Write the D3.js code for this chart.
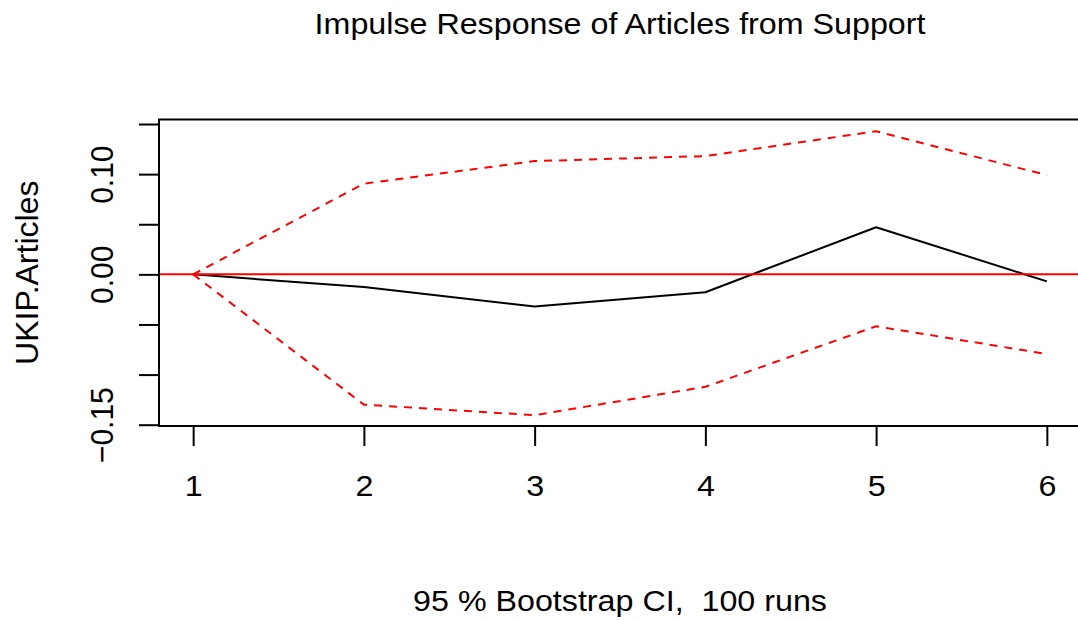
<!DOCTYPE html>
<html>
<head>
<meta charset="utf-8">
<script src="https://cdn.jsdelivr.net/npm/d3@7"></script>
<style>
  html, body { margin: 0; padding: 0; background: #fff; }
  svg { display: block; font-family: "Liberation Sans", Arial, sans-serif; }
  text { white-space: pre; }
</style>
</head>
<body>
<svg id="chart" width="1078" height="620"></svg>
<script>
// Impulse response horizon (steps)
const steps = [1, 2, 3, 4, 5, 6];
// Orthogonalised impulse response of UKIP.Articles to a shock in Support
const response = [0.0000, -0.0127, -0.0320, -0.0178, 0.0470, -0.0070];
// Bootstrap confidence band
const upperCI = [0.0000, 0.0905, 0.1130, 0.1180, 0.1428, 0.0990];
const lowerCI = [0.0000, -0.1300, -0.1405, -0.1122, -0.0518, -0.0795];
// Axis ticks and labels
const xTicks = [1, 2, 3, 4, 5, 6];
const yTicks = [-0.15, -0.10, -0.05, 0.00, 0.05, 0.10, 0.15];
const yTickLabels = ["-0.15", "", "", "0.00", "", "0.10", ""];

const titleText = "Impulse Response of Articles from Support";
const yLabel = "UKIP.Articles";
const xLabel = "95 % Bootstrap CI,  100 runs";

const FONT = 30;          // text size
const STRETCH = 1.075;    // glyph width factor

const svg = d3.select("#chart");

const box = { left: 159, right: 1081, top: 119.5, bottom: 426 };

const x = d3.scaleLinear().domain([0.8, 6.2]).range([box.left, box.right]);
const y = d3.scaleLinear().domain([-0.1513, 0.1545]).range([box.bottom, box.top]);

// clip for plotted series
svg.append("defs").append("clipPath").attr("id", "plotclip")
  .append("rect")
  .attr("x", box.left).attr("y", box.top)
  .attr("width", box.right - box.left).attr("height", box.bottom - box.top);

const plot = svg.append("g").attr("clip-path", "url(#plotclip)");

const line = d3.line().x((d, i) => x(steps[i])).y(d => y(d));

// response path
plot.append("path")
  .datum(response)
  .attr("d", line)
  .attr("fill", "none")
  .attr("stroke", "#000")
  .attr("stroke-width", 2)
  .attr("stroke-linejoin", "round");

// zero reference line
plot.append("line")
  .attr("x1", box.left).attr("x2", box.right)
  .attr("y1", y(0)).attr("y2", y(0))
  .attr("stroke", "#ff0000")
  .attr("stroke-width", 2);

// confidence band bounds
[upperCI, lowerCI].forEach(series => {
  plot.append("path")
    .datum(series)
    .attr("d", line)
    .attr("fill", "none")
    .attr("stroke", "#ff0000")
    .attr("stroke-width", 2)
    .attr("stroke-dasharray", "8,7");
});

// plot frame
svg.append("rect")
  .attr("x", box.left).attr("y", box.top)
  .attr("width", box.right - box.left).attr("height", box.bottom - box.top)
  .attr("fill", "none")
  .attr("stroke", "#000")
  .attr("stroke-width", 2);

// x axis
const xAxis = d3.axisBottom(x)
  .tickValues(xTicks)
  .tickSize(20)
  .tickFormat(d3.format("d"));
const gx = svg.append("g")
  .attr("transform", `translate(0,${box.bottom})`)
  .call(xAxis);
gx.select(".domain")
  .attr("d", `M${x(xTicks[0])},0H${x(xTicks[xTicks.length - 1])}`)
  .attr("stroke-width", 2);
gx.selectAll(".tick line").attr("stroke-width", 2);
gx.selectAll(".tick text")
  .attr("y", null).attr("dy", null)
  .attr("transform", `translate(0,${496 - box.bottom}) scale(${STRETCH},1)`)
  .attr("text-anchor", "middle")
  .attr("font-size", FONT)
  .attr("font-family", "Liberation Sans, Arial, sans-serif")
  .attr("fill", "#000");

// y axis
const yAxis = d3.axisLeft(y)
  .tickValues(yTicks)
  .tickSize(20)
  .tickFormat((d, i) => yTickLabels[i]);
const gy = svg.append("g")
  .attr("transform", `translate(${box.left},0)`)
  .call(yAxis);
gy.select(".domain")
  .attr("d", `M0,${y(yTicks[0])}V${y(yTicks[yTicks.length - 1])}`)
  .attr("stroke-width", 2);
gy.selectAll(".tick line").attr("stroke-width", 2);
gy.selectAll(".tick text")
  .attr("x", null).attr("dy", null)
  .attr("transform", `translate(${113 - box.left},0) scale(${STRETCH},1) rotate(-90)`)
  .attr("text-anchor", "middle")
  .attr("font-size", FONT)
  .attr("font-family", "Liberation Sans, Arial, sans-serif")
  .attr("fill", "#000")
  .text((d, i) => yTickLabels[i].replace("-", "\u2212"));

// title
svg.append("text")
  .attr("transform", `translate(${(box.left + box.right) / 2},34) scale(${STRETCH},1)`)
  .attr("text-anchor", "middle")
  .attr("font-size", FONT)
  .attr("fill", "#000")
  .text(titleText);

// x label
svg.append("text")
  .attr("transform", `translate(${(box.left + box.right) / 2},611) scale(${STRETCH},1)`)
  .attr("text-anchor", "middle")
  .attr("font-size", FONT)
  .attr("fill", "#000")
  .text(xLabel);

// y label
svg.append("text")
  .attr("transform", `translate(38,${(box.top + box.bottom) / 2}) rotate(-90)`)
  .attr("text-anchor", "middle")
  .attr("font-size", 32)
  .attr("fill", "#000")
  .text(yLabel);
</script>
</body>
</html>
